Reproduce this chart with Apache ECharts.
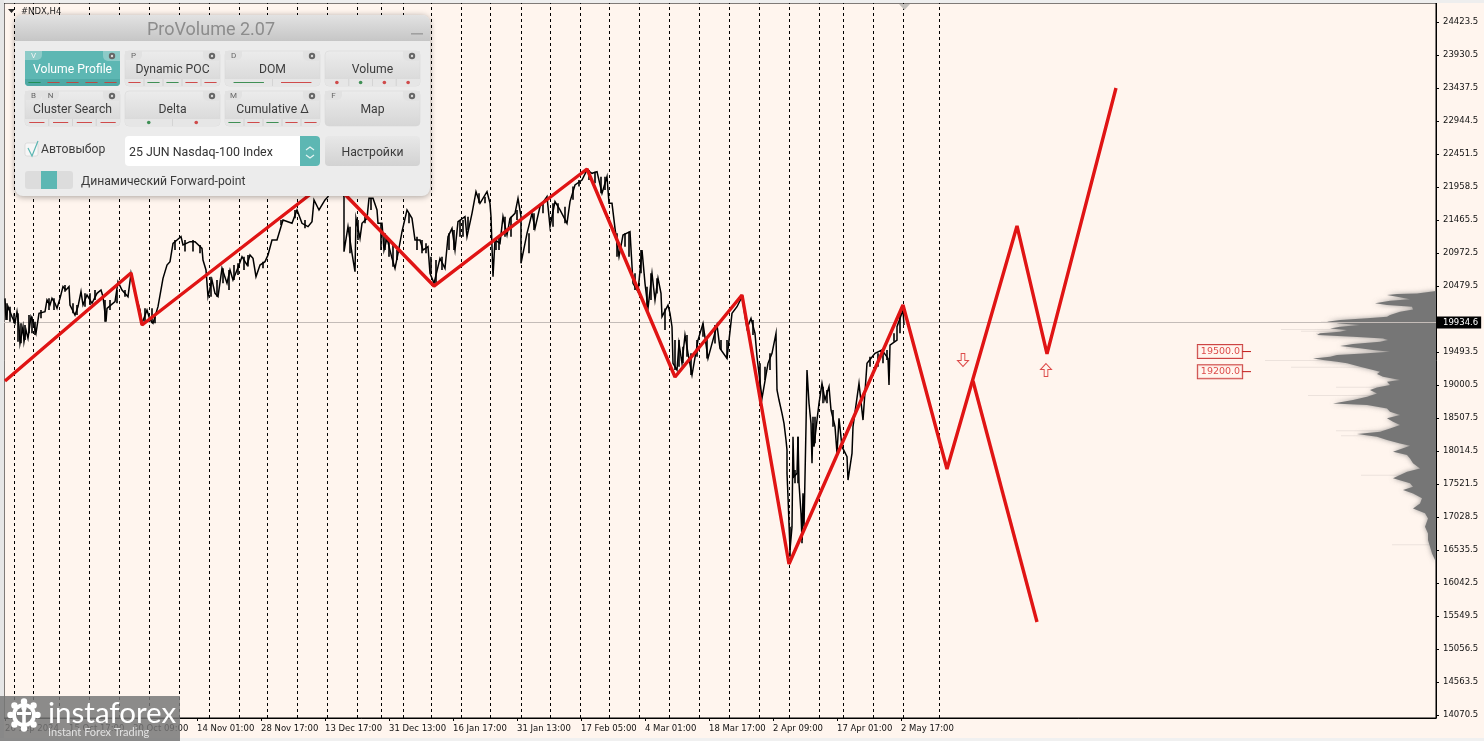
<!DOCTYPE html>
<html><head><meta charset="utf-8">
<style>html,body{margin:0;padding:0;background:#fff5ee}#c{width:1484px;height:741px}</style>
<script src="https://cdn.jsdelivr.net/npm/echarts@6/dist/echarts.min.js"></script>
</head><body><div id="c"></div>
<script>
var yTickLabels=[14070.5,14563.5,15056.5,15549.5,16042.5,16535.5,17028.5,17521.5,18014.5,18507.5,19000.5,19493.5,20479.5,20972.5,21465.5,21958.5,22451.5,22944.5,23437.5,23930.5,24423.5];
var xTickLabels=["26 Sep 2024","15 Oct 17:00","30 Oct 09:00","14 Nov 01:00","28 Nov 17:00","13 Dec 17:00","31 Dec 13:00","16 Jan 17:00","31 Jan 13:00","17 Feb 05:00","4 Mar 01:00","18 Mar 17:00","2 Apr 09:00","17 Apr 01:00","2 May 17:00"];
var xTickBars=[0,64,128,192,256,320,384,448,512,576,640,704,768,832,896];
var sessionBars=[9,28,54,84,114,144,174,204,234,262,292,322,352,376,398,426,456,485,516,545,575,604,634,664,694,724,754,784,814,838,868,898,934];
var lastPrice=19934.6;
var priceBars=[0,1,3,7,10,12,14,15,18,19,21,23,26,28,31,34,40,42,45,47,50,52,55,58,61,64,65,70,73,76,78,82,87,92,96,98,101,102,110,113,117,123,126,130,135,137,142,145,148,153,158,162,165,168,172,176,178,185,190,197,198,201,203,207,210,213,217,222,225,228,234,237,242,245,248,251,255,260,263,267,272,278,287,292,297,303,307,309,314,320,323,330,339,339,343,347,350,351,355,357,362,364,368,372,373,377,379,382,387,390,393,397,402,407,410,415,418,423,425,429,435,440,443,447,450,453,460,462,467,471,475,482,485,486,488,490,495,498,502,505,510,513,516,516,522,527,530,535,542,545,550,555,562,565,570,577,582,587,592,597,602,604,607,610,614,618,625,628,633,637,640,643,647,650,653,656,657,663,665,667,668,672,674,677,680,683,687,693,698,703,712,715,722,727,732,737,742,746,750,752,757,763,767,771,772,774,777,779,781,782,782,783,785,787,788,789,792,793,794,796,797,798,799,801,802,804,806,807,808,809,812,814,817,820,824,826,830,832,834,837,842,843,847,848,854,858,862,870,877,883,884,885,892,892,898,899];
var priceValues=[20295,19972,20171,20022,19922,20096,19872,19623,19872,19648,19822,19698,20022,19947,19773,20071,20096,20271,20196,20295,20221,20146,20295,20470,20420,20470,20196,20046,20171,20395,20196,20345,20221,20370,20420,20320,19947,20146,20246,20544,20420,20320,20669,20370,20121,19922,20121,19972,19922,20171,20594,20793,20843,21117,21167,21217,21092,21142,21142,21042,20868,20719,20320,20569,20370,20320,20744,20520,20719,20569,20793,20918,20793,20943,20893,20619,20793,20843,20943,21167,21167,21466,21416,21615,21416,21366,21441,21765,21615,21765,21814,22100,21814,20992,21366,20968,20694,21490,21192,21416,21490,21789,21789,21615,21416,21416,21017,21192,20893,20743,20968,21291,21615,21490,21167,21167,21017,21067,20669,20519,20893,20743,21217,21341,21017,21441,21515,21217,21565,21889,21715,21889,21715,21515,20619,21167,21117,21515,21241,21490,21565,21789,21515,20818,21266,21565,21341,21665,21814,21366,21740,21615,21416,21740,21989,22063,22213,22163,22188,21864,22113,21715,21715,21341,20918,21241,21291,20519,20395,21017,20519,20146,20669,20270,20594,20369,20021,20195,20071,19871,19324,19224,19622,19324,19747,19473,19149,19672,19921,19398,19896,19548,19398,20071,20170,20320,19846,19996,19772,19423,18801,19324,19473,19772,18926,18776,18577,18428,18179,18029,17681,17332,16535,16884,18229,17631,17681,18229,17531,17083,16685,17382,16884,18378,19225,18727,18428,17830,18428,18079,18478,18727,19025,18776,18976,18627,18378,17980,18503,18079,17930,17581,17980,18378,19025,18477,19324,19473,19523,19398,19000,19597,19672,19871,20120,19896];
var wickBars=[2,5,9,13,16,20,24,27,30,36,44,49,60,68,72,80,85,90,100,105,112,120,140,147,150,170,180,188,195,206,212,218,224,229,233,239,243,258,276,290,300,345,353,360,366,376,380,384,388,392,404,412,417,421,426,431,437,444,449,455,458,463,474,480,491,494,500,506,512,524,529,538,548,553,560,568,574,584,590,596,600,612,620,624,630,636,642,646,652,660,670,674,678,682,686,692,698,702,710,716,722,748,755,760,765,785,790,793,797,808,810,818,822,828,865,873,878,882,889,895];
var wickHighs=[20221,20171,20071,20071,19922,19897,20046,20022,19947,20121,20295,20295,20495,20221,20196,20370,20370,20420,20271,20271,20420,20420,20146,20146,20022,21167,21167,21167,21092,20619,20569,20744,20719,20793,20818,20918,20943,20843,21466,21615,21466,21366,21466,21515,21789,21416,21266,21192,21117,21017,21565,21217,21167,21117,20918,20868,20918,21266,21316,21466,21466,21515,21864,21814,21167,21217,21515,21515,21615,21266,21565,21715,21715,21715,21665,21964,22063,22213,22188,22113,22113,21266,21266,21291,20669,21017,20470,20669,20594,20145,19672,19672,19573,19747,19473,19672,19921,19722,19896,19672,19672,19971,19324,19274,19473,16884,17731,18229,17083,18527,18527,18976,18926,18627,19423,19473,19523,19523,19772,20071];
var wickLows=[19972,19947,19922,19648,19623,19673,19773,19773,19748,19997,20121,20121,20395,20071,20046,20171,20196,20271,19947,20121,20221,20320,19922,19922,19922,21018,20993,20993,20968,20320,20320,20520,20420,20569,20644,20719,20769,20744,21391,21491,21341,20968,21167,21416,21615,21017,21017,20918,20768,20868,21416,21017,20968,20968,20669,20519,20719,21017,21017,21217,21217,21316,21715,21715,21017,21017,21217,21217,21466,20968,21316,21565,21366,21565,21416,21766,21964,22063,22013,21864,21915,20918,21067,20918,20419,20669,20171,20270,20369,19822,19224,19274,19324,19423,19149,19423,19722,19398,19622,19523,19398,19747,18801,19075,19224,16436,17531,17531,16635,18129,18129,18727,18727,18378,19274,19274,19324,19374,19647,19772];
var zigzagBars=[0,126,137,325,429,582,670,737,784,898,942,1012,1042,1111];
var zigzagValues=[19060,20674,19897,22078,20479,22227,19120,20345,16326,20196,17745,21376,19465,23437];
var branchBars=[968,1032];
var branchValues=[19060,15460];
var arrowDownAt=[958,19374];
var arrowUpAt=[1041,19224];
var levelValues=[19500,19200];
var profilePrices=[20404,20369,20359,20344,20320,20280,20260,20220,20195,20170,20130,20096,20046,20021,19996,19971,19946,19921,19896,19871,19846,19822,19797,19772,19747,19722,19697,19672,19647,19612,19583,19548,19523,19498,19473,19448,19423,19398,19373,19348,19324,19274,19224,19199,19164,19124,19075,19050,19000,18965,18925,18875,18826,18776,18726,18701,18651,18601,18552,18502,18452,18402,18352,18303,18268,18228,18178,18128,18094,18054,18004,17954,17904,17830,17755,17705,17655,17606,17531,17481,17431,17381,17307,17232,17157,17083,17008,16883,16784,16684,16585,16485,16386,16336];
var profileVolumes=[0,19,39,49,39,26,46,61,49,24,23,36,46,49,69,96,109,96,76,96,106,89,96,116,119,83,53,48,56,83,96,76,63,46,69,99,106,123,113,99,89,76,63,56,59,53,36,49,46,59,66,59,69,83,103,69,49,46,36,49,43,36,46,56,79,59,49,36,26,33,43,29,26,23,16,29,36,43,26,23,33,23,14,16,23,11,8,11,8,8,6,4,1,0];
var spikePrices=[19373,19836,19811,19773,19274,18850,18975,18325,18250,17660,16620,19948,19560];
var spikeVolumes=[171,155,135,120,145,128,100,100,95,75,44,115,90];

var panelButtons=[
 {t:"Volume Profile",k:["V"],c:0,r:0,on:1,m:"lgrrrr"},
 {t:"Dynamic POC",k:["P"],c:1,r:0,m:"lrggrr"},
 {t:"DOM",k:["D"],c:2,r:0,m:"lgr"},
 {t:"Volume",k:[],c:3,r:0,m:"drgrr"},
 {t:"Cluster Search",k:["B","N"],c:0,r:1,m:"lrrrr"},
 {t:"Delta",k:[],c:1,r:1,m:"dgr"},
 {t:"Cumulative Δ",k:["M"],c:2,r:1,m:"lgrgrr"},
 {t:"Map",k:["F"],c:3,r:1,m:""}
];

var RED='#e01414',TEAL='#5db7b3';
function grad(a,b){return new echarts.graphic.LinearGradient(0,0,0,1,[{offset:0,color:a},{offset:1,color:b}]);}
var g=[],Z=200;
var F='Roboto,sans-serif';
function R(x,y,w,h,fill,r,extra){g.push({type:'rect',z:Z,silent:true,shape:{x:x,y:y,width:w,height:h,r:r||0},style:Object.assign({fill:fill},extra||{})});}
function T(x,y,s,fill,size,align,font){g.push({type:'text',z:Z,silent:true,style:{x:x,y:y,text:s,fill:fill,font:size+'px '+(font||F),textAlign:align||'left',textVerticalAlign:'middle'}});}
function L(pts,stroke,w){g.push({type:'polyline',z:Z,silent:true,shape:{points:pts},style:{stroke:stroke,lineWidth:w||1,fill:null}});}
function C(x,y,r,fill){g.push({type:'circle',z:Z,silent:true,shape:{cx:x,cy:y,r:r},style:{fill:fill}});}

// window edges and header
R(0,0,1484,3,'#eeeeee');R(0,0,4,741,'#e6e6e6');R(0,738,1484,3,'#f0f0f0');
T(21,12,'#NDX,H4','#222',8.5,'left','"DejaVu Sans"');
g.push({type:'polygon',z:Z,silent:true,shape:{points:[[8,9],[15,9],[11.5,13]]},style:{fill:'#222'}});
g.push({type:'polygon',z:Z,silent:true,shape:{points:[[899,4],[910,4],[904.5,10]]},style:{fill:'#c4c0bc'}});

// panel
R(15,15,415,181,'#ececec',8,{shadowBlur:6,shadowColor:'rgba(0,0,0,.35)',shadowOffsetY:1});
R(15,15,415,26,grad('#e2e2e2','#c6c6c6'),[8,8,0,0]);
T(211,30,'ProVolume 2.07','#8c8c8c',18,'center');
R(411,33,12,1.6,'#a0a0a0');
panelButtons.forEach(function(b){
  var x=25+b.c*100,y=51+b.r*40,w=95,h=35;
  R(x,y,w,h,b.on?TEAL:grad('#ececec','#d6d6d6'),4,b.on?{}:{stroke:'#d4d4d4',lineWidth:.5});
  T(x+w/2,y+19,b.t,b.on?'#ffffff':'#3c3c3c',12.2,'center');
  b.k.forEach(function(k,i){
    R(x+i*17,y,17,9,b.on?'#8ccbc8':'#e2e2e2',[0,0,5,0]);
    T(x+8.5+i*17,y+5,k,b.on?'#f4f4f4':'#666',8,'center');
  });
  R(x+w-17,y,17,10,b.on?'#8ccbc8':'#e2e2e2',[0,0,0,5]);
  C(x+w-8,y+5,3.2,'#666');C(x+w-8,y+5,1.2,'#ddd');
  var kind=b.m.charAt(0),cols=b.m.slice(1);
  if(cols){
    R(x,y+28,w,7,b.on?'#4fa9a5':'#e6e6e6',[0,0,4,4]);
    var seg=w/cols.length;
    cols.split('').forEach(function(cc,i){
      var col=cc==='g'?'#3f8f55':'#cf4a4a',cx=x+seg*(i+.5);
      if(b.on&&cc==='r')col='#b94a44';
      if(b.on&&cc==='g')col='#1f8f55';
      if(kind==='l')L([[cx-seg*.32,y+31.5],[cx+seg*.32,y+31.5]],col,1);
      else C(cx,y+31.5,1.8,col);
      if(i>0&&!b.on)L([[x+seg*i,y+28],[x+seg*i,y+35]],'#c8c8c8',.6);
    });
  }
});
R(25,143,13,13,'#f6f6f6',2,{stroke:'#d0d0d0',lineWidth:.6});
L([[28,148],[32,156],[38,141]],TEAL,1.2);
T(41,150,'Автовыбор','#3c3c3c',12.2);
R(125,136,195,30,'#ffffff',4);
R(300,136,20,30,TEAL,[0,4,4,0]);
L([[306,150],[310,147],[314,150]],'#e6f4f3',1.2);L([[306,155],[310,158],[314,155]],'#e6f4f3',1.2);
T(129,153,'25 JUN Nasdaq-100 Index','#333',12.4);
R(325,136,95,30,grad('#e8e8e8','#d2d2d2'),4);
T(372.5,153,'Настройки','#3c3c3c',12.2,'center');
R(25,171,48,18,'#dcdcdc',3);R(41,171,16,18,TEAL);
T(81,182,'Динамический Forward-point','#3c3c3c',12.2);

// watermark
R(0,696,180,45,'rgba(118,118,118,.84)');
var wx=24,wy=715,WM='#7d7d7d';
for(var a=0;a<8;a++){C(wx+13.5*Math.cos(a*Math.PI/4),wy+13.5*Math.sin(a*Math.PI/4),3.2,'#ffffff');}
C(wx,wy,12,'#ffffff');C(wx,wy,8,WM);R(wx-1.8,wy-6,3.6,19,'#ffffff');R(wx-7,wy-3,14,3,'#ffffff');C(wx,wy-7,2.6,'#ffffff');
T(48,713,'instaforex','#ffffff',29.5,'left','Lato');
T(48,732,'Instant Forex Trading','#e2e2e2',11,'left','Lato');

function pairs(a,b){return a.map(function(v,i){return [v,b[i]];});}
function profileItem(params,api){
  var n=profilePrices.length,pts=[];
  for(var i=0;i<n;i++){pts.push(api.coord([profileVolumes[i],profilePrices[i]]));}
  return {type:'polygon',shape:{points:pts},style:{fill:'#767676',shadowBlur:5,shadowColor:'rgba(118,118,118,.7)'}};
}
var chart=echarts.init(document.getElementById('c'));
chart.setOption({
  animation:false,backgroundColor:'#fff5ee',
  grid:{left:4,right:48,top:3,bottom:23,show:true,borderColor:'#000',borderWidth:1,backgroundColor:'#fff5ee'},
  xAxis:[{type:'value',min:-1,max:1431,splitLine:{show:false},axisLine:{onZero:false,lineStyle:{color:'#000'}},
    axisTick:{customValues:xTickBars,length:3,lineStyle:{color:'#000'}},
    axisLabel:{customValues:xTickBars,color:'#111',fontFamily:'"DejaVu Sans"',fontSize:8.5,align:'left',margin:6,
      formatter:function(v){var i=xTickBars.indexOf(v);return i>=0?xTickLabels[i]:'';}}},
    {type:'value',min:0,max:1432,inverse:true,show:false,gridIndex:0}],
  yAxis:{type:'value',position:'right',min:14026,max:24707,splitLine:{show:false},axisLine:{show:true,onZero:false,lineStyle:{color:'#000'}},
    axisTick:{customValues:yTickLabels,length:3,lineStyle:{color:'#000'}},
    axisLabel:{customValues:yTickLabels,color:'#111',fontFamily:'"DejaVu Sans"',fontSize:8.5,margin:7,lineHeight:12,formatter:function(v){return v.toFixed(1);}}},
  graphic:{elements:g},
  series:[
   {type:'line',name:'sessions',data:[],z:1,silent:true,markLine:{silent:true,symbol:'none',animation:false,label:{show:false},
     lineStyle:{color:'#000',type:[3,3],width:1},data:sessionBars.map(function(b){return {xAxis:b};})}},
   {type:'line',name:'last',data:[],z:2,silent:true,markLine:{silent:true,symbol:'none',animation:false,
     lineStyle:{color:'#c4bcb8',type:'solid',width:1},
     label:{show:true,position:'end',distance:1,formatter:lastPrice.toFixed(1),color:'#fff',backgroundColor:'#000',fontFamily:'"DejaVu Sans"',fontSize:8.5,padding:[2,3,1,6]},
     data:[{yAxis:lastPrice}]}},
   {type:'custom',name:'spikes',xAxisIndex:1,z:3,silent:true,data:pairs(spikeVolumes,spikePrices),
     renderItem:function(p,api){var a=api.coord([api.value(0),api.value(1)]),b=api.coord([0,api.value(1)]);
       return {type:'rect',shape:{x:a[0],y:a[1],width:b[0]-a[0],height:1},style:{fill:'#ece2dc'}};}},
   {type:'custom',name:'profile',xAxisIndex:1,z:4,silent:true,data:[[0,0]],renderItem:profileItem,clip:true},
   {type:'custom',name:'wicks',z:5,silent:true,data:wickBars.map(function(b,i){return [b,wickHighs[i],wickLows[i]];}),
     renderItem:function(p,api){var a=api.coord([api.value(0),api.value(1)]),b=api.coord([api.value(0),api.value(2)]);
       return {type:'line',shape:{x1:a[0],y1:a[1],x2:b[0],y2:b[1]},style:{stroke:'#000',lineWidth:1.6}};}},
   {type:'line',name:'price',data:pairs(priceBars,priceValues),z:5,silent:true,symbol:'none',lineStyle:{color:'#000',width:1.5,join:'miter'}},
   {type:'line',name:'zigzag',data:pairs(zigzagBars,zigzagValues),z:6,silent:true,symbol:'none',lineStyle:{color:RED,width:3.4}},
   {type:'line',name:'branch',data:pairs(branchBars,branchValues),z:6,silent:true,symbol:'none',lineStyle:{color:RED,width:3.4}},
   {type:'scatter',name:'arrows',z:7,silent:true,symbolSize:[11,13],
     symbol:'path://M4 0H8V7H12L6 13L0 7H4Z',itemStyle:{color:'#fff5ee',borderColor:'#d42020',borderWidth:1},data:[arrowDownAt]},
   {type:'scatter',name:'arrows2',z:7,silent:true,symbolSize:[11,13],
     symbol:'path://M6 0L12 6H8V13H4V6H0Z',itemStyle:{color:'#fff5ee',borderColor:'#d42020',borderWidth:1},data:[arrowUpAt]},
   {type:'custom',name:'levelTicks',z:7,silent:true,data:levelValues.map(function(v){return [1236,v];}),
     renderItem:function(p,api){var a=api.coord([1236,api.value(1)]),b=api.coord([1246,api.value(1)]);
       return {type:'line',shape:{x1:a[0],y1:a[1],x2:b[0],y2:b[1]},style:{stroke:'#c01818',lineWidth:1}};}},
   {type:'scatter',name:'levels',z:8,silent:true,symbolSize:1,itemStyle:{color:'transparent'},
     data:levelValues.map(function(v){return [1215,v];}),
     label:{show:true,position:'inside',formatter:function(p){return p.value[1].toFixed(1);},color:'#d42020',fontFamily:'"DejaVu Sans"',fontSize:9.5,
       borderColor:'#c01818',borderWidth:1,padding:[2,2,1,3],backgroundColor:'#fff5ee'}}
  ]
});
</script></body></html>
